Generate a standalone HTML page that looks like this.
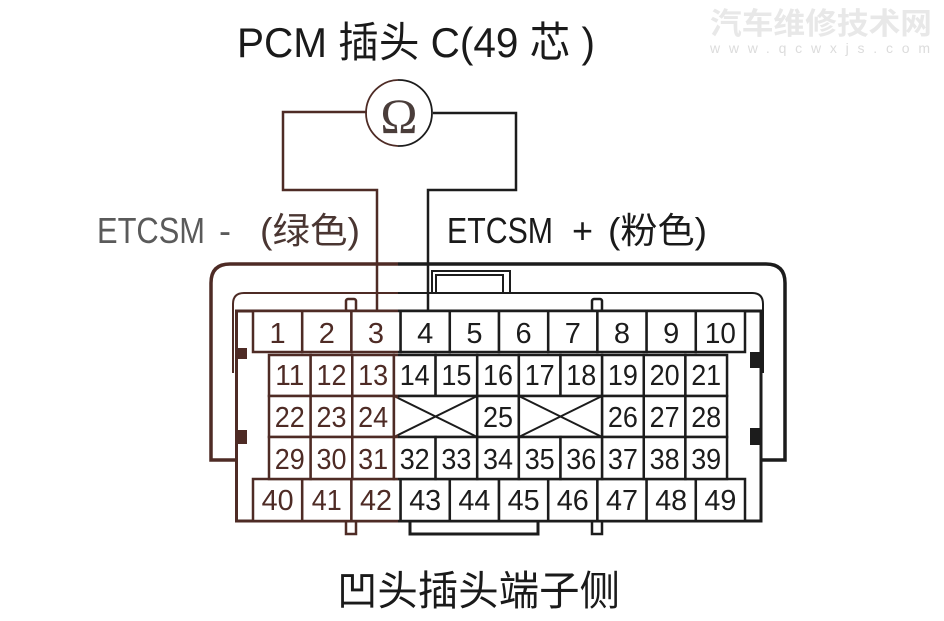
<!DOCTYPE html>
<html><head><meta charset="utf-8"><style>
html,body{margin:0;padding:0;background:#fff;}
svg{display:block;}
.n{font-family:"Liberation Sans",sans-serif;font-size:29px;text-anchor:middle;fill:currentColor;stroke:none;}
</style></head><body>
<svg width="944" height="621" viewBox="0 0 944 621" xmlns="http://www.w3.org/2000/svg">
<defs>
<clipPath id="L"><rect x="0" y="0" width="398" height="621"/></clipPath>
<clipPath id="R"><rect x="398" y="0" width="546" height="621"/></clipPath>
<g id="d" fill="none" stroke="currentColor">
  <path d="M236,460 H211 V283 Q211,264 230,264 H766 Q785,264 785,283 V460 H761" stroke-width="3.5"/>
  <path d="M233,373 V304 Q233,293 244,293 H752 Q763,293 763,304 V373" stroke-width="2"/>
  <path d="M432,293 V271 H510 V293" stroke-width="2"/>
  <path d="M436,293 V275 H503 V293" stroke-width="2"/>
  <rect x="346" y="299" width="10" height="12" rx="2" fill="#fff" stroke-width="2.5"/>
  <rect x="592" y="299" width="10" height="12" rx="2" fill="#fff" stroke-width="2.5"/>
  <rect x="346" y="521" width="10" height="13" fill="#fff" stroke-width="2.5"/>
  <rect x="592" y="521" width="10" height="13" fill="#fff" stroke-width="2.5"/>
  <path d="M410,521 V534 H538 V521" stroke-width="3"/>
  <rect x="236.5" y="311" width="524.5" height="210" fill="#fff" stroke-width="3"/>
  <rect x="237" y="348" width="10" height="11" fill="currentColor" stroke="none"/>
  <rect x="237" y="430" width="10" height="14" fill="currentColor" stroke="none"/>
  <rect x="750" y="352" width="11" height="16" fill="currentColor" stroke="none"/>
  <rect x="750" y="428" width="11" height="17" fill="currentColor" stroke="none"/>
  <path d="M367,112 H283 V190 H377 V311" stroke-width="2.5"/>
  <path d="M433,113 H516 V190 H428 V311" stroke-width="2.5"/>
  <circle cx="399" cy="113" r="33" stroke-width="1.8"/>
  <g stroke-width="2.5" fill="#fff">
    <rect x="253" y="311" width="49.2" height="41"/>
    <rect x="302.2" y="311" width="49.2" height="41"/>
    <rect x="351.4" y="311" width="49.2" height="41"/>
    <rect x="400.6" y="311" width="49.2" height="41"/>
    <rect x="449.8" y="311" width="49.2" height="41"/>
    <rect x="499" y="311" width="49.2" height="41"/>
    <rect x="548.2" y="311" width="49.2" height="41"/>
    <rect x="597.4" y="311" width="49.2" height="41"/>
    <rect x="646.6" y="311" width="49.2" height="41"/>
    <rect x="695.8" y="311" width="49.2" height="41"/>
    <rect x="253" y="479" width="49.2" height="42"/>
    <rect x="302.2" y="479" width="49.2" height="42"/>
    <rect x="351.4" y="479" width="49.2" height="42"/>
    <rect x="400.6" y="479" width="49.2" height="42"/>
    <rect x="449.8" y="479" width="49.2" height="42"/>
    <rect x="499" y="479" width="49.2" height="42"/>
    <rect x="548.2" y="479" width="49.2" height="42"/>
    <rect x="597.4" y="479" width="49.2" height="42"/>
    <rect x="646.6" y="479" width="49.2" height="42"/>
    <rect x="695.8" y="479" width="49.2" height="42"/>
    <rect x="269" y="355" width="41.64" height="41"/>
    <rect x="310.64" y="355" width="41.64" height="41"/>
    <rect x="352.28" y="355" width="41.64" height="41"/>
    <rect x="393.92" y="355" width="41.64" height="41"/>
    <rect x="435.56" y="355" width="41.64" height="41"/>
    <rect x="477.2" y="355" width="41.64" height="41"/>
    <rect x="518.84" y="355" width="41.64" height="41"/>
    <rect x="560.48" y="355" width="41.64" height="41"/>
    <rect x="602.12" y="355" width="41.64" height="41"/>
    <rect x="643.76" y="355" width="41.64" height="41"/>
    <rect x="685.4" y="355" width="41.64" height="41"/>
    <rect x="269" y="396" width="41.64" height="41"/>
    <rect x="310.64" y="396" width="41.64" height="41"/>
    <rect x="352.28" y="396" width="41.64" height="41"/>
    <rect x="393.92" y="396" width="83.28" height="41"/>
    <rect x="477.2" y="396" width="41.64" height="41"/>
    <rect x="518.84" y="396" width="83.28" height="41"/>
    <rect x="602.12" y="396" width="41.64" height="41"/>
    <rect x="643.76" y="396" width="41.64" height="41"/>
    <rect x="685.4" y="396" width="41.64" height="41"/>
    <rect x="269" y="437" width="41.64" height="42"/>
    <rect x="310.64" y="437" width="41.64" height="42"/>
    <rect x="352.28" y="437" width="41.64" height="42"/>
    <rect x="393.92" y="437" width="41.64" height="42"/>
    <rect x="435.56" y="437" width="41.64" height="42"/>
    <rect x="477.2" y="437" width="41.64" height="42"/>
    <rect x="518.84" y="437" width="41.64" height="42"/>
    <rect x="560.48" y="437" width="41.64" height="42"/>
    <rect x="602.12" y="437" width="41.64" height="42"/>
    <rect x="643.76" y="437" width="41.64" height="42"/>
    <rect x="685.4" y="437" width="41.64" height="42"/>
  </g>
  <path d="M393.92,396 L477.2,437 M393.92,437 L477.2,396 M518.84,396 L602.12,437 M518.84,437 L602.12,396" stroke-width="2"/>
  <text class="n" x="277.6" y="343">1</text>
  <text class="n" x="326.8" y="343">2</text>
  <text class="n" x="376" y="343">3</text>
  <text class="n" x="425.2" y="343">4</text>
  <text class="n" x="474.4" y="343">5</text>
  <text class="n" x="523.6" y="343">6</text>
  <text class="n" x="572.8" y="343">7</text>
  <text class="n" x="622" y="343">8</text>
  <text class="n" x="671.2" y="343">9</text>
  <text class="n" x="720.4" y="343" textLength="31" lengthAdjust="spacingAndGlyphs">10</text>
  <text class="n" x="289.8" y="385" textLength="29" lengthAdjust="spacingAndGlyphs">11</text>
  <text class="n" x="331.5" y="385" textLength="30" lengthAdjust="spacingAndGlyphs">12</text>
  <text class="n" x="373.1" y="385" textLength="30" lengthAdjust="spacingAndGlyphs">13</text>
  <text class="n" x="414.7" y="385" textLength="30" lengthAdjust="spacingAndGlyphs">14</text>
  <text class="n" x="456.4" y="385" textLength="30" lengthAdjust="spacingAndGlyphs">15</text>
  <text class="n" x="498" y="385" textLength="30" lengthAdjust="spacingAndGlyphs">16</text>
  <text class="n" x="539.7" y="385" textLength="30" lengthAdjust="spacingAndGlyphs">17</text>
  <text class="n" x="581.3" y="385" textLength="30" lengthAdjust="spacingAndGlyphs">18</text>
  <text class="n" x="622.9" y="385" textLength="30" lengthAdjust="spacingAndGlyphs">19</text>
  <text class="n" x="664.6" y="385" textLength="30" lengthAdjust="spacingAndGlyphs">20</text>
  <text class="n" x="706.2" y="385" textLength="30" lengthAdjust="spacingAndGlyphs">21</text>
  <text class="n" x="289.8" y="427" textLength="30" lengthAdjust="spacingAndGlyphs">22</text>
  <text class="n" x="331.5" y="427" textLength="30" lengthAdjust="spacingAndGlyphs">23</text>
  <text class="n" x="373.1" y="427" textLength="30" lengthAdjust="spacingAndGlyphs">24</text>
  <text class="n" x="498" y="427" textLength="30" lengthAdjust="spacingAndGlyphs">25</text>
  <text class="n" x="622.9" y="427" textLength="30" lengthAdjust="spacingAndGlyphs">26</text>
  <text class="n" x="664.6" y="427" textLength="30" lengthAdjust="spacingAndGlyphs">27</text>
  <text class="n" x="706.2" y="427" textLength="30" lengthAdjust="spacingAndGlyphs">28</text>
  <text class="n" x="289.8" y="469" textLength="30" lengthAdjust="spacingAndGlyphs">29</text>
  <text class="n" x="331.5" y="469" textLength="30" lengthAdjust="spacingAndGlyphs">30</text>
  <text class="n" x="373.1" y="469" textLength="30" lengthAdjust="spacingAndGlyphs">31</text>
  <text class="n" x="414.7" y="469" textLength="30" lengthAdjust="spacingAndGlyphs">32</text>
  <text class="n" x="456.4" y="469" textLength="30" lengthAdjust="spacingAndGlyphs">33</text>
  <text class="n" x="498" y="469" textLength="30" lengthAdjust="spacingAndGlyphs">34</text>
  <text class="n" x="539.7" y="469" textLength="30" lengthAdjust="spacingAndGlyphs">35</text>
  <text class="n" x="581.3" y="469" textLength="30" lengthAdjust="spacingAndGlyphs">36</text>
  <text class="n" x="622.9" y="469" textLength="30" lengthAdjust="spacingAndGlyphs">37</text>
  <text class="n" x="664.6" y="469" textLength="30" lengthAdjust="spacingAndGlyphs">38</text>
  <text class="n" x="706.2" y="469" textLength="30" lengthAdjust="spacingAndGlyphs">39</text>
  <text class="n" x="277.6" y="510" textLength="32" lengthAdjust="spacingAndGlyphs">40</text>
  <text class="n" x="326.8" y="510" textLength="30" lengthAdjust="spacingAndGlyphs">41</text>
  <text class="n" x="376" y="510" textLength="32" lengthAdjust="spacingAndGlyphs">42</text>
  <text class="n" x="425.2" y="510" textLength="32" lengthAdjust="spacingAndGlyphs">43</text>
  <text class="n" x="474.4" y="510" textLength="32" lengthAdjust="spacingAndGlyphs">44</text>
  <text class="n" x="523.6" y="510" textLength="32" lengthAdjust="spacingAndGlyphs">45</text>
  <text class="n" x="572.8" y="510" textLength="32" lengthAdjust="spacingAndGlyphs">46</text>
  <text class="n" x="622" y="510" textLength="32" lengthAdjust="spacingAndGlyphs">47</text>
  <text class="n" x="671.2" y="510" textLength="32" lengthAdjust="spacingAndGlyphs">48</text>
  <text class="n" x="720.4" y="510" textLength="32" lengthAdjust="spacingAndGlyphs">49</text>
</g>
</defs>

<rect width="944" height="621" fill="#fff"/>

<text x="710" y="34" font-family="'Liberation Sans','Noto Sans CJK SC',sans-serif" font-size="30" font-weight="bold" fill="#e8e8e8" textLength="222" lengthAdjust="spacingAndGlyphs">汽车维修技术网</text>
<text x="710" y="53" font-family="'Liberation Sans',sans-serif" font-size="14" fill="#dcdcdc" textLength="220" lengthAdjust="spacing">www.qcwxjs.com</text>

<use href="#d" clip-path="url(#L)" style="color:#4e2b25"/>
<use href="#d" clip-path="url(#R)" style="color:#1c1c1c"/>

<text x="399" y="133" font-family="'Liberation Serif',serif" font-size="50" text-anchor="middle" fill="#4a3d3a">Ω</text>

<text x="237" y="57" font-family="'Liberation Sans','Noto Sans CJK SC',sans-serif" font-size="42" fill="#1a1a1a" textLength="358" lengthAdjust="spacingAndGlyphs">PCM 插头 C(49 芯 )</text>

<g font-family="'Liberation Sans','Noto Sans CJK SC',sans-serif" font-size="36">
  <text x="97" y="243" fill="#5a5a5a" textLength="108" lengthAdjust="spacingAndGlyphs">ETCSM</text>
  <text x="225" y="243" fill="#5a5a5a" text-anchor="middle">-</text>
  <text x="260" y="243" fill="#4a3632" textLength="100" lengthAdjust="spacingAndGlyphs">(绿色)</text>
  <text x="447" y="243" fill="#1a1a1a" textLength="106" lengthAdjust="spacingAndGlyphs">ETCSM</text>
  <text x="582.5" y="243" fill="#1a1a1a" text-anchor="middle">+</text>
  <text x="608" y="243" fill="#1a1a1a" textLength="99" lengthAdjust="spacingAndGlyphs">(粉色)</text>
</g>

<text x="337" y="605" font-family="'Liberation Sans','Noto Sans CJK SC',sans-serif" font-size="41" fill="#1a1a1a" textLength="283" lengthAdjust="spacingAndGlyphs">凹头插头端子侧</text>
</svg>
</body></html>
